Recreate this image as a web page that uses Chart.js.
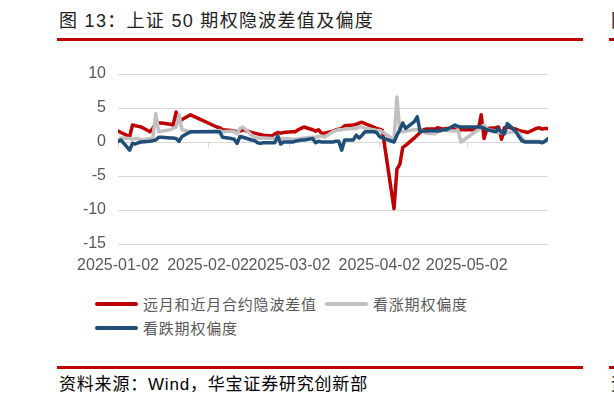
<!DOCTYPE html>
<html>
<head>
<meta charset="utf-8">
<script src="https://cdn.jsdelivr.net/npm/chart.js@4.4.1/dist/chart.umd.min.js"></script>
<style>
  html, body { margin:0; padding:0; background:#fff; width:614px; height:407px; overflow:hidden; position:relative; }
  .abs { position:absolute; white-space:nowrap; }
  .cjk { font-family: "Liberation Sans", "Noto Sans CJK SC", sans-serif; }
  .bar { position:absolute; background:#C00000; height:3px; }
  .lg-line { position:absolute; width:43px; height:4px; border-radius:2px; }
  .lg-text { position:absolute; font-family:"Noto Sans CJK SC", sans-serif; font-size:15px; color:#595959; line-height:18px; white-space:nowrap; letter-spacing:0.8px; }
  #wrap { position:absolute; left:0; top:0; width:614px; height:290px; }
</style>
</head>
<body>
<div class="abs cjk" style="left:59px; top:9px; font-size:18px; letter-spacing:1.3px; color:#222; line-height:24px;">图 13：上证 50 期权隐波差值及偏度</div>
<div class="bar" style="left:57px; top:38px; width:526px;"></div>
<div class="abs cjk" style="left:611px; top:9px; font-size:18px; color:#222; line-height:24px;">图</div>
<div class="bar" style="left:609px; top:38px; width:10px;"></div>

<div id="wrap"><canvas id="c" width="614" height="290"></canvas></div>

<div class="lg-line" style="left:95px; top:302px; background:#C00000;"></div>
<div class="lg-text" style="left:143px; top:295px;">远月和近月合约隐波差值</div>
<div class="lg-line" style="left:325px; top:302px; background:#C0C0C0;"></div>
<div class="lg-text" style="left:373px; top:295px;">看涨期权偏度</div>
<div class="lg-line" style="left:95px; top:326px; background:#1F4E79;"></div>
<div class="lg-text" style="left:143px; top:319px;">看跌期权偏度</div>

<div class="bar" style="left:57px; top:366px; width:526px;"></div>
<div class="bar" style="left:609px; top:366px; width:10px;"></div>
<div class="abs cjk" style="left:59px; top:374px; font-size:17px; letter-spacing:0.8px; color:#000; line-height:22px;">资料来源：Wind，华宝证券研究创新部</div>
<div class="abs cjk" style="left:611px; top:374px; font-size:17px; color:#000; line-height:22px;">资</div>

<script>
// ---- Data ----
const dates = [
  '01-02','01-03','01-06','01-07','01-08','01-09','01-10','01-13','01-14','01-15','01-16','01-17',
  '01-20','01-21','01-22','01-23','01-24','01-27',
  '02-05','02-06','02-07','02-10','02-11','02-12','02-13','02-14','02-17','02-18','02-19','02-20','02-21',
  '02-24','02-25','02-26','02-27','02-28',
  '03-03','03-04','03-05','03-06','03-07','03-10','03-11','03-12','03-13','03-14','03-17','03-18','03-19',
  '03-20','03-21','03-24','03-25','03-26','03-27','03-28','03-31',
  '04-01','04-02','04-03','04-07','04-08','04-09','04-10','04-11','04-14','04-15','04-16','04-17','04-18',
  '04-21','04-22','04-23','04-24','04-25','04-28','04-29','04-30',
  '05-06','05-07','05-08','05-09','05-12','05-13','05-14','05-15','05-16','05-19','05-20','05-21','05-22',
  '05-23','05-26','05-27','05-28','05-29','05-30'
];

// 远月和近月合约隐波差值
const ivSpread = [
  1.6,1.4,0.8,2.5,2.4,2.3,2.2,1.5,2.0,2.8,2.8,2.8,
  2.6,2.5,4.4,2.9,3.3,4.0,
  2.2,2.1,1.8,1.7,1.6,1.5,1.6,1.8,1.4,1.3,1.2,1.1,1.0,
  0.9,1.2,1.4,1.3,1.4,
  1.5,1.5,1.8,2.0,2.2,1.8,1.6,1.8,1.3,1.3,1.6,1.8,1.9,
  2.0,2.4,2.5,2.6,2.8,2.9,2.7,2.2,
  2.0,1.9,1.7,-9.8,-4.0,-3.3,-0.8,-0.5,0.6,1.0,1.4,1.8,1.9,
  1.9,2.1,2.0,1.9,2.0,1.9,1.8,1.8,
  1.8,4.0,0.5,2.0,2.1,2.2,0.4,2.1,2.2,1.9,1.7,1.6,1.5,
  1.4,2.0,2.1,1.9,2.0,2.0
];

// 看涨期权偏度
const callSkew = [
  0.3,0.6,0.5,0.4,0.5,0.5,0.3,0.5,0.6,4.2,1.5,1.6,
  1.8,2.0,2.2,4.0,1.8,1.5,
  1.6,1.7,1.5,1.6,1.5,1.2,2.0,2.2,1.0,0.7,0.6,0.6,0.6,
  0.5,0.5,0.6,0.5,0.5,
  0.4,0.4,0.5,0.5,0.6,0.7,0.7,0.8,0.9,0.7,1.5,1.7,1.8,
  1.8,1.9,2.0,2.0,2.2,2.2,2.0,1.8,
  1.7,1.7,1.5,0.3,6.6,1.5,1.5,1.6,1.8,1.8,1.8,1.6,1.3,
  1.2,1.5,1.6,1.8,1.7,1.6,1.8,0.0,
  1.8,2.2,2.5,1.9,1.6,1.4,1.3,1.3,1.4,1.5,1.3,0.6,0.2,
  0.1,0.1,0.1,0.0,0.2,0.4
];

// 看跌期权偏度
const putSkew = [
  0.1,0.3,-1.2,-0.2,-0.3,-0.1,0.0,0.1,0.2,0.3,0.7,0.7,
  0.6,0.6,0.5,0.1,0.8,1.5,
  1.5,1.5,0.7,0.5,0.4,-0.2,0.8,0.7,0.3,0.2,-0.1,-0.2,-0.1,
  -0.1,-0.1,0.9,-0.3,0.0,
  0.0,0.1,0.2,0.3,0.3,0.5,-0.1,0.1,0.0,0.0,0.0,0.1,0.1,
  -1.2,0.3,0.3,1.0,0.6,1.0,1.5,1.5,
  1.4,0.8,0.6,0.0,1.0,1.8,2.8,2.0,3.0,3.7,1.5,1.6,1.6,
  1.7,1.6,1.7,1.8,1.8,2.5,2.3,2.2,
  2.2,2.2,2.0,1.8,1.5,2.0,1.4,1.2,2.7,1.5,0.8,0.2,0.0,
  0.0,0.0,0.0,-0.1,0.1,0.5
];

const tickDates = ['01-02','02-02','03-02','04-02','05-02'];
const tickLabels = ['2025-01-02','2025-02-02','2025-03-02','2025-04-02','2025-05-02'];
const yTicks = [-15,-10,-5,0,5,10];

// ---- helpers ----
const base = Date.UTC(2025,0,2);
function dayOf(s){ const [m,d] = s.split('-').map(Number); return (Date.UTC(2025,m-1,d)-base)/86400000; }
const tickDays = tickDates.map(dayOf);
const lastDay = dayOf(dates[dates.length-1]);
function pts(vals){ return dates.map((d,i)=>({x:dayOf(d), y:vals[i]})); }

const axisMarks = {
  id:'axisMarks',
  beforeDatasetsDraw(chart){
    const {ctx, scales:{x,y}} = chart;
    const y0 = y.getPixelForValue(0);
    ctx.save();
    ctx.strokeStyle = '#D9D9D9';
    ctx.lineWidth = 1;
    tickDays.forEach(v=>{
      const px = Math.round(x.getPixelForValue(v))+0.5;
      ctx.beginPath(); ctx.moveTo(px,y0); ctx.lineTo(px,y0+6); ctx.stroke();
    });
    ctx.restore();
  }
};

const common = { pointRadius:0, borderWidth:3.5, tension:0, fill:false, borderJoinStyle:'round', borderCapStyle:'round' };

new Chart(document.getElementById('c'), {
  type:'line',
  data:{ datasets:[
    Object.assign({label:'远月和近月合约隐波差值', data:pts(ivSpread), borderColor:'#C00000', order:3}, common),
    Object.assign({label:'看涨期权偏度', data:pts(callSkew), borderColor:'#C0C0C0', order:2}, common),
    Object.assign({label:'看跌期权偏度', data:pts(putSkew), borderColor:'#1F4E79', order:1}, common)
  ]},
  options:{
    responsive:false, animation:false, devicePixelRatio:1,
    layout:{ padding:{ top:74, right:66, left:0, bottom:0 } },
    plugins:{ legend:{display:false}, tooltip:{enabled:false} },
    scales:{
      x:{
        type:'linear', min:0, max:lastDay,
        afterBuildTicks(ax){ ax.ticks = tickDays.map(v=>({value:v})); },
        afterFit(ax){ ax.height = 46; },
        ticks:{ autoSkip:false, maxRotation:0, minRotation:0, padding:12,
          color:'#595959', font:{family:'Liberation Sans', size:16},
          callback:(v,i)=>tickLabels[i] },
        grid:{ display:false, drawTicks:false },
        border:{ display:false }
      },
      y:{
        min:-15, max:10,
        afterBuildTicks(ax){ ax.ticks = yTicks.map(v=>({value:v})); },
        afterFit(ax){ ax.width = 118; },
        ticks:{ padding:12, color:'#595959', font:{family:'Liberation Sans', size:16} },
        grid:{ color:'#D9D9D9', lineWidth:1, drawTicks:false },
        border:{ display:false }
      }
    }
  },
  plugins:[axisMarks]
});
</script>
</body>
</html>
